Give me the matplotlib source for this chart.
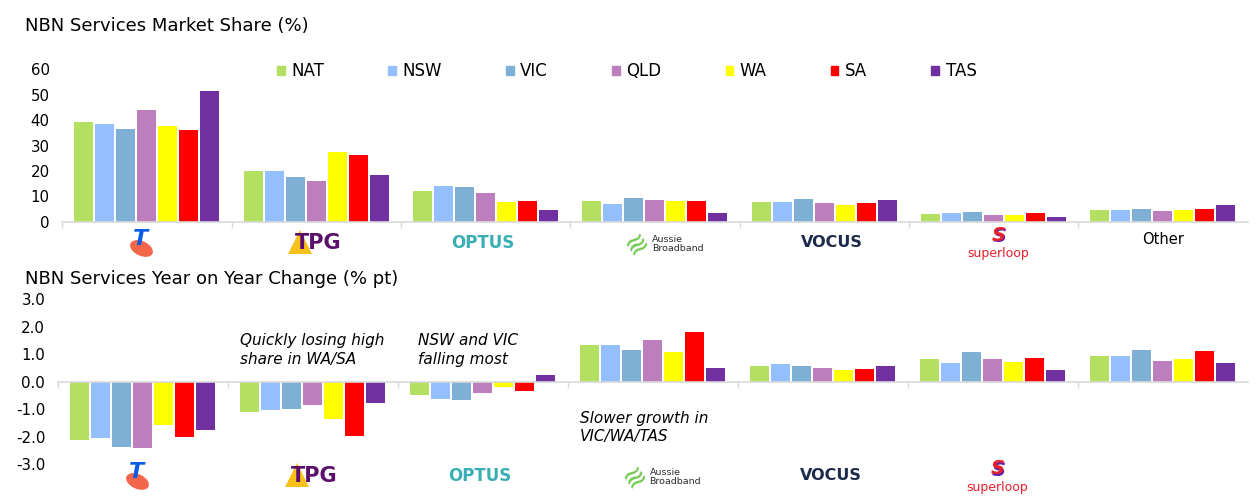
import matplotlib
matplotlib.use("Agg")
import matplotlib.pyplot as plt
import matplotlib.transforms as mtransforms
import matplotlib.path as mpath
from matplotlib.patches import Patch
import numpy as np

plt.rcParams['font.family'] = ['DejaVu Sans']
plt.rcParams['axes.unicode_minus'] = False

# providers (shown as logos under each group)
providers = ['Telstra', 'TPG', 'Optus', 'Aussie Broadband', 'Vocus', 'Superloop', 'Other']
states = ['NAT', 'NSW', 'VIC', 'QLD', 'WA', 'SA', 'TAS']
colors = ['#B3E060', '#93BFFF', '#7EB0D5', '#BD7EBE', '#FFFF00', '#FF0000', '#7030A0']

# market share (%) per state, by provider
share_nat = [39.2, 20.0, 12.1, 8.1, 7.8, 3.0, 4.6]
share_nsw = [38.5, 20.0, 14.1, 7.0, 7.8, 3.4, 4.6]
share_vic = [36.5, 17.6, 13.7, 9.3, 8.9, 3.8, 5.0]
share_qld = [44.0, 16.0, 11.3, 8.5, 7.4, 2.6, 4.2]
share_wa = [37.7, 27.4, 7.8, 8.1, 6.6, 2.6, 4.6]
share_sa = [36.1, 26.3, 8.1, 8.1, 7.4, 3.4, 5.0]
share_tas = [51.5, 18.4, 4.6, 3.4, 8.5, 1.8, 6.6]

# year on year change (% pt) per state, by provider
yoy_nat = [-2.12, -1.10, -0.49, 1.34, 0.57, 0.83, 0.94]
yoy_nsw = [-2.05, -1.03, -0.63, 1.34, 0.64, 0.68, 0.94]
yoy_vic = [-2.38, -0.99, -0.67, 1.16, 0.57, 1.08, 1.15]
yoy_qld = [-2.42, -0.85, -0.41, 1.52, 0.50, 0.83, 0.75]
yoy_wa = [-1.57, -1.36, -0.19, 1.08, 0.43, 0.72, 0.83]
yoy_sa = [-2.01, -1.98, -0.34, 1.81, 0.46, 0.86, 1.12]
yoy_tas = [-1.76, -0.78, 0.24, 0.50, 0.57, 0.43, 0.68]

share = [share_nat, share_nsw, share_vic, share_qld, share_wa, share_sa, share_tas]
yoy = [yoy_nat, yoy_nsw, yoy_vic, yoy_qld, yoy_wa, yoy_sa, yoy_tas]

W, H = 1260, 499
fig = plt.figure(figsize=(W / 100, H / 100), dpi=100)
ax1 = fig.add_axes([62.3 / W, 1 - 221.7 / H, (1247.5 - 62.3) / W, (221.7 - 69.3) / H])
ax2 = fig.add_axes([57.7 / W, 1 - 464 / H, (1247.5 - 57.7) / W, (464 - 299.3) / H])

x = np.arange(len(providers))
slot = 0.124
bw = 0.112


def draw_bars(ax, data):
    for j, vals in enumerate(data):
        ax.bar(x + (j - 3) * slot, vals, bw, color=colors[j], label=states[j], zorder=2)
    ax.set_xlim(-0.5, 6.5)
    for s in ['top', 'right', 'left']:
        ax.spines[s].set_visible(False)
    ax.spines['bottom'].set_color('#D9D9D9')
    ax.spines['bottom'].set_linewidth(1.2)
    ax.set_xticks([])
    ax.set_xticks(np.arange(-0.5, 6.0, 1.0), minor=True)
    ax.tick_params(axis='x', which='minor', length=4, color='#D9D9D9', width=1)
    ax.tick_params(axis='y', length=0, pad=9, labelsize=10.8)


draw_bars(ax1, share)
ax1.set_ylim(0, 60)
ax1.set_yticks(range(0, 61, 10))

draw_bars(ax2, yoy)
ax2.set_ylim(-3, 3)
ax2.set_yticks(np.arange(-3, 3.01, 1.0))
ax2.set_yticklabels(['%.1f' % v for v in np.arange(-3, 3.01, 1.0)])
ax2.spines['bottom'].set_position(('data', 0))

# titles
fig.text(25 / W, 1 - 26 / H, 'NBN Services Market Share (%)', fontsize=13, va='center', ha='left')
fig.text(25 / W, 1 - 279 / H, 'NBN Services Year on Year Change (% pt)', fontsize=13, va='center', ha='left')

# legend
handles = [Patch(color=c, label=s) for c, s in zip(colors, states)]
fig.legend(handles=handles, ncol=7, loc='center left', bbox_to_anchor=(277 / W, 1 - 71 / H),
           frameon=False, fontsize=12, handlelength=0.45, handleheight=0.45, handletextpad=0.4,
           columnspacing=3.85, borderpad=0, borderaxespad=0)

# annotations
note_kw = dict(fontsize=11, style='italic', va='top', ha='left', linespacing=1.3)
ax2.text(0.573, 1.76, 'Quickly losing high\nshare in WA/SA', **note_kw)
ax2.text(1.62, 1.76, 'NSW and VIC\nfalling most', **note_kw)
ax2.text(2.574, -1.06, 'Slower growth in\nVIC/WA/TAS', **note_kw)

ellipse = mpath.Path.unit_circle().transformed(mtransforms.Affine2D().scale(1, 0.6).rotate_deg(-25))


def draw_logos(ax, dy, show_other):
    def off(dx_px, dy_px):
        return ax.get_xaxis_transform() + mtransforms.ScaledTranslation(dx_px / 100, dy_px / 100, fig.dpi_scale_trans)

    # Telstra
    ax.plot([0], [0], marker=ellipse, markersize=17, color='#F4664A', mew=0,
            transform=off(-6, dy - 5), clip_on=False)
    ax.text(0, 0, 'T', transform=off(-6, dy + 4), fontsize=16, fontweight='heavy', style='italic',
            color='#0A5BE8', ha='center', va='center')
    # TPG
    ax.plot([1], [0], marker='^', markersize=17, color='#F6C11A', mew=0,
            transform=off(-16, dy + 1), clip_on=False)
    ax.text(1, 0, 'TPG', transform=off(2, dy), fontsize=15, fontweight='bold',
            color='#5B0F6B', ha='center', va='center')
    # Optus
    ax.text(2, 0, 'OPTUS', transform=off(-3, dy), fontsize=12, fontweight='bold',
            color='#3AAFB3', ha='center', va='center')
    # Aussie Broadband
    ax.text(3, 0, '≋', transform=off(-18, dy - 1), fontsize=20, rotation=35,
            color='#6CC94A', ha='center', va='center')
    ax.text(3, 0, 'Aussie\nBroadband', transform=off(-3, dy - 1), fontsize=6.8, linespacing=0.95,
            color='#2B2B2B', ha='left', va='center')
    # Vocus
    ax.text(4, 0, 'VOCUS', transform=off(8, dy), fontsize=11.5, fontweight='bold',
            color='#1C2A4C', ha='center', va='center')
    # Superloop
    ax.text(5, 0, 'S', transform=off(6, dy + 6), fontsize=14, fontweight='bold', style='italic',
            color='#5B1FB0', ha='center', va='center')
    ax.text(5, 0, 'S', transform=off(5, dy + 7), fontsize=14, fontweight='bold', style='italic',
            color='#E8202A', ha='center', va='center')
    ax.text(5, 0, 'superloop', transform=off(5, dy - 11), fontsize=9,
            color='#E8202A', ha='center', va='center')
    if show_other:
        ax.text(6, 0, 'Other', transform=off(0, dy + 3), fontsize=10.5,
                color='black', ha='center', va='center')


draw_logos(ax1, -21, True)
draw_logos(ax2, -12, False)

fig.savefig('out.png', dpi=100)
